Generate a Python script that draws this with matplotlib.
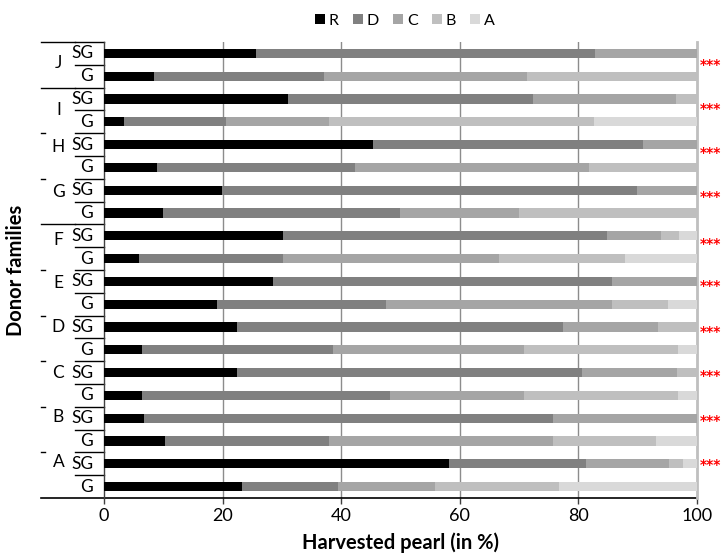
import numpy as np
import matplotlib.pyplot as plt
import matplotlib.transforms as mtransforms

plt.rcParams['font.family'] = ['Lato', 'DejaVu Sans']

# Donor families, bottom to top; each has a G and an SG row
families = ["A", "B", "C", "D", "E", "F", "G", "H", "I", "J"]
row_kinds = ["G", "SG"]
classes = ["R", "D", "C", "B", "A"]
colors = ["#000000", "#808080", "#a5a5a5", "#bfbfbf", "#d9d9d9"]

# cumulative end of each class (R, D, C, B), A fills to 100 -- rows bottom to top
ends = [
    [23.2, 39.5, 55.8, 76.8],   # A G
    [58.1, 81.3, 95.3, 97.6],   # A SG
    [10.3, 37.9, 75.8, 93.1],   # B G
    [6.8, 75.8, 100.0, 100.0],  # B SG
    [6.4, 48.3, 70.8, 96.8],    # C G
    [22.5, 80.6, 96.6, 100.0],  # C SG
    [6.4, 38.7, 70.8, 96.8],    # D G
    [22.5, 77.4, 93.4, 100.0],  # D SG
    [19.0, 47.6, 85.7, 95.1],   # E G
    [28.5, 85.7, 100.0, 100.0], # E SG
    [5.9, 30.2, 66.6, 87.9],    # F G
    [30.2, 84.8, 93.9, 97.0],   # F SG
    [9.9, 49.9, 70.0, 100.0],   # G G
    [19.9, 89.9, 100.0, 100.0], # G SG
    [8.9, 42.3, 81.8, 100.0],   # H G
    [45.4, 90.9, 100.0, 100.0], # H SG
    [3.4, 20.6, 37.9, 82.6],    # I G
    [31.0, 72.3, 96.5, 100.0],  # I SG
    [8.4, 37.1, 71.3, 100.0],   # J G
    [25.6, 82.8, 100.0, 100.0], # J SG
]
signif = ["***"] * len(families)

ends = np.array(ends)
cum = np.hstack([np.zeros((len(ends), 1)), ends, np.full((len(ends), 1), 100.0)])
widths = np.diff(cum, axis=1)
y = np.arange(len(ends))

fig = plt.figure(figsize=(7.22, 5.57), dpi=100)
ax = fig.add_axes([104 / 722, 59 / 557, 593 / 722, 456 / 557])

for k, name in enumerate(classes):
    ax.barh(y, widths[:, k], left=cum[:, k], height=0.4, color=colors[k],
            label=name, zorder=3)

ax.set_xlim(0, 100)
ax.set_ylim(-0.5, len(ends) - 0.5)
ax.set_xticks([0, 20, 40, 60, 80, 100])
ax.tick_params(axis='x', labelsize=13, length=4, width=1, color='#404040', direction='out')
ax.set_yticks([])
for x in [20, 40, 60, 80]:
    ax.axvline(x, color='#8c8c8c', lw=1, zorder=1)
ax.spines['top'].set_visible(False)
ax.spines['right'].set_color('#bfbfbf')
ax.spines['right'].set_linewidth(2)
ax.spines['left'].set_color('#404040')
ax.spines['left'].set_linewidth(1)
ax.spines['bottom'].set_visible(False)

# multi-level category axis on the left
tr = mtransforms.blended_transform_factory(ax.transAxes, ax.transData)
x_outer, x_inner = -0.106, -0.049
ax.plot([x_outer, 1.0], [-0.5, -0.5], transform=tr, color='black', lw=1.2, clip_on=False)
for b in range(1, len(ends) + 1):
    yb = b - 0.5
    ax.plot([x_inner, 0], [yb, yb], transform=tr, color='black', lw=1, clip_on=False)
    if b % 2 == 0:
        if b in (12, 18, 20):
            ax.plot([x_outer, x_inner], [yb, yb], transform=tr, color='black', lw=1, clip_on=False)
        else:
            ax.plot([x_outer, x_outer + 0.006], [yb, yb], transform=tr, color='black', lw=1, clip_on=False)

for i in range(len(ends)):
    ax.text(-0.018, i, row_kinds[i % 2], transform=tr, ha='right', va='center', fontsize=12.5)

label_off = [0.1, 0.05, 0.0, 0.0, -0.05, -0.2, -0.1, -0.1, -0.5, -0.4]
star_off = [0.04, -0.04, -0.06, -0.13, -0.11, -0.27, -0.21, -0.28, -0.35, -0.42]
for g, fam in enumerate(families):
    ax.text(-0.077, 2 * g + 1 + label_off[g], fam, transform=tr, ha='center', va='center', fontsize=12.5)
    ax.text(1.022, 2 * g + 1 + star_off[g] - 0.1, signif[g], transform=tr, ha='center',
            va='center', fontsize=10, fontweight='bold', color='#ff0000',
            family='DejaVu Sans')

ax.set_xlabel("Harvested pearl (in %)", fontsize=14.5, fontweight='bold', labelpad=6)
fig.text(0.022, 0.515, "Donor families", rotation=90, ha='center', va='center',
         fontsize=14.5, fontweight='bold')

fig.legend(loc='center', bbox_to_anchor=(0.561, 0.963), ncol=5, frameon=False, fontsize=11.5,
           handlelength=0.6, handleheight=0.6, handletextpad=0.25, columnspacing=0.9)

fig.savefig("out.png", dpi=100)
